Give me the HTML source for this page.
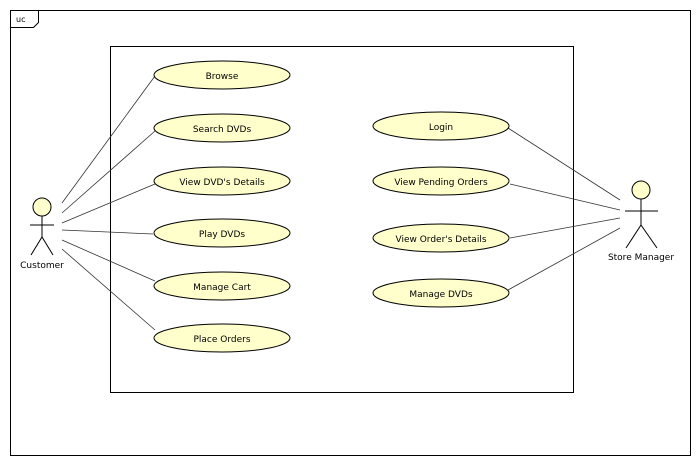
<!DOCTYPE html>
<html><head><style>body{margin:0;background:#fff}svg{display:block}text{font-family:"DejaVu Sans","Liberation Sans",sans-serif;font-size:9px;fill:#000}</style></head><body>
<svg width="699" height="464" viewBox="0 0 699 464">
<rect x="10.5" y="10.5" width="680" height="445" fill="#fff" stroke="#000"/>
<path d="M10.5 27.5H33.5L38.5 22.5V10.5" fill="none" stroke="#000"/>
<text x="16" y="22" style="font-size:8px">uc</text>
<rect x="110.5" y="46.5" width="463" height="346" fill="none" stroke="#000"/>
<g stroke="#333" stroke-width="0.8">
<line x1="62" y1="203" x2="155" y2="76"/>
<line x1="62" y1="213" x2="155" y2="131"/>
<line x1="62" y1="223" x2="155" y2="184"/>
<line x1="62" y1="230" x2="153" y2="234"/>
<line x1="62" y1="240" x2="155" y2="281"/>
<line x1="62" y1="249" x2="155" y2="330"/>
<line x1="508" y1="128" x2="620" y2="200"/>
<line x1="510" y1="184" x2="620" y2="210"/>
<line x1="510" y1="238" x2="620" y2="218"/>
<line x1="508" y1="290" x2="620" y2="228"/>
</g>
<g fill="#ffffcc" stroke="#000">
<ellipse cx="222" cy="75" rx="68" ry="14"/>
<ellipse cx="222" cy="128" rx="68" ry="14"/>
<ellipse cx="222" cy="181" rx="68" ry="14"/>
<ellipse cx="222" cy="233" rx="68" ry="14"/>
<ellipse cx="222" cy="286" rx="68" ry="14"/>
<ellipse cx="222" cy="338" rx="68" ry="14"/>
<ellipse cx="441" cy="126" rx="68" ry="14"/>
<ellipse cx="441" cy="181" rx="68" ry="14"/>
<ellipse cx="441" cy="238" rx="68" ry="14"/>
<ellipse cx="441" cy="293" rx="68" ry="14"/>
</g>
<g text-anchor="middle">
<text x="222" y="79">Browse</text>
<text x="222" y="132">Search DVDs</text>
<text x="222" y="185">View DVD's Details</text>
<text x="222" y="237">Play DVDs</text>
<text x="222" y="290">Manage Cart</text>
<text x="222" y="342">Place Orders</text>
<text x="441" y="130">Login</text>
<text x="441" y="185">View Pending Orders</text>
<text x="441" y="242">View Order's Details</text>
<text x="441" y="297">Manage DVDs</text>
<text x="42" y="268">Customer</text>
<text x="641" y="260">Store Manager</text>
</g>
<g stroke="#000" fill="none" stroke-width="1">
<circle cx="42" cy="207" r="9" fill="#ffffcc"/>
<path d="M42 216V237M30 225H54M31 255L42 237L53 255"/>
<circle cx="641" cy="190" r="9" fill="#ffffcc"/>
<path d="M641 199V225M625 211H658M626 248L641 225L657 248"/>
</g>
</svg>
</body></html>
